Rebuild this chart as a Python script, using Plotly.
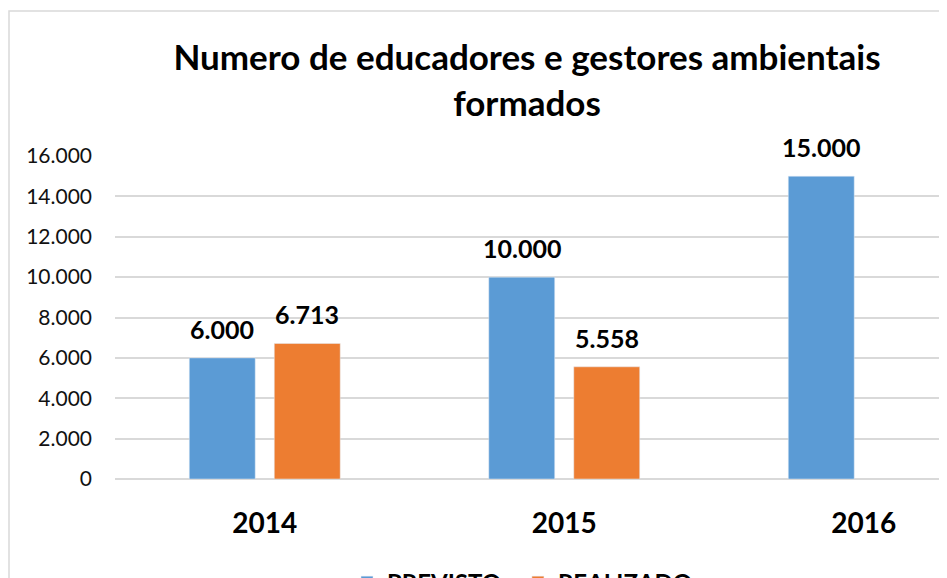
import plotly.graph_objects as go

categories = ["2014", "2015", "2016"]
previsto = [6000, 10000, 15000]
realizado = [6713, 5558, None]
y_ticks = [0, 2000, 4000, 6000, 8000, 10000, 12000, 14000, 16000]
y_tick_labels = ["0", "2.000", "4.000", "6.000", "8.000", "10.000", "12.000", "14.000", "16.000"]

BLUE = "#5B9BD5"
ORANGE = "#ED7D31"
FONT = "Lato"

# page body has an 8px margin; layout is expressed in figure pixels
L, T, B = 107, 148, 107
PW = 947 - L
PH = 578 - T - B
STEP = 299.5  # pixels per category

def fmt(v):
    return f"{v:,.0f}".replace(",", ".")

fig = go.Figure()
fig.add_trace(go.Bar(x=categories, y=previsto, name="PREVISTO\u00a0\u00a0", marker_color=BLUE))
fig.add_trace(go.Bar(x=categories, y=realizado, name="REALIZADO", marker_color=ORANGE))

label_font = dict(family=FONT, size=25, color="#000", weight="bold")
for i, v in enumerate(previsto):
    fig.add_annotation(x=i, y=v, xshift=-42.5, yshift=12, yanchor="bottom",
                       text=fmt(v), showarrow=False, font=label_font)
for i, v in enumerate(realizado):
    if v is not None:
        fig.add_annotation(x=i, y=v, xshift=42.5, yshift=12, yanchor="bottom",
                           text=fmt(v), showarrow=False, font=label_font)

fig.add_shape(type="rect", xref="paper", yref="paper",
              x0=(1 - L) / PW, x1=1.3, y0=-0.8, y1=(PH + T - 3) / PH,
              line=dict(color="#d9d9d9", width=1.5), fillcolor="rgba(0,0,0,0)", layer="below")

fig.update_layout(
    width=947, height=578,
    margin=dict(l=L, r=0, t=T, b=B, autoexpand=False),
    paper_bgcolor="white", plot_bgcolor="white",
    barmode="group", bargap=0.4324, bargroupgap=0.224,
    title=dict(text="Numero de educadores e gestores ambientais<br>formados",
               x=(527 - 115) / PW, xref="paper", xanchor="center",
               y=1 - 62 / 578, yref="container", yanchor="top",
               font=dict(family=FONT, size=35, color="#000", weight="bold")),
    showlegend=True,
    legend=dict(orientation="h", x=(522.5 - 115) / PW, xanchor="center",
                y=-0.251, yanchor="top",
                font=dict(family=FONT, size=24, color="#000", weight="bold")),
    xaxis=dict(type="category", range=[-0.5, -0.5 + PW / STEP], showgrid=False, showline=False,
               ticks="", ticklabelstandoff=25, fixedrange=True,
               tickfont=dict(family=FONT, size=28, color="#000", weight="bold")),
    yaxis=dict(range=[0, 16000], tickvals=y_ticks, ticktext=y_tick_labels,
               showgrid=True, gridcolor="#d9d9d9", gridwidth=1.5,
               zeroline=True, zerolinecolor="#d9d9d9", zerolinewidth=1.5,
               showline=False, ticks="", ticklabelstandoff=22,
               tickfont=dict(family=FONT, size=21, color="#111")),
)

fig.write_html("out.html")
